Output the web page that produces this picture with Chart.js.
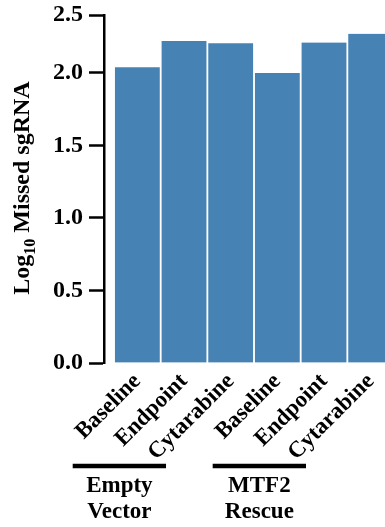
<!DOCTYPE html>
<html>
<head>
<meta charset="utf-8">
<script src="https://cdn.jsdelivr.net/npm/chart.js@4/dist/chart.umd.min.js"></script>
<style>
  html, body { margin: 0; padding: 0; background: #fff; overflow: hidden; }
  #wrap { width: 385px; height: 527px; overflow: hidden; position: relative; }
  canvas { display: block; }
</style>
</head>
<body>
<div id="wrap"><canvas id="chart" width="394" height="527"></canvas></div>
<script>
// Conditions along the x axis
const categories = ["Baseline", "Endpoint", "Cytarabine", "Baseline", "Endpoint", "Cytarabine"];
// log10 of missed sgRNA counts per condition
const missedLog10 = [2.04, 2.22, 2.205, 2.0, 2.21, 2.27];
// y-axis ticks: positions and their printed labels
const yTickValues = [0, 0.5, 1.0, 1.5, 2.0, 2.4];
const yTickLabels = ["0.0", "0.5", "1.0", "1.5", "2.0", "2.5"];
// Construct groups shown under the condition labels
const groupNames = [["Empty", "Vector"], ["MTF2", "Rescue"]];
const groupStarts = [0, 3];

const FONT = "'Liberation Serif', 'Times New Roman', serif";

const axisTitle = {
  id: 'axisTitle',
  afterDraw(chart) {
    const ctx = chart.ctx;
    ctx.save();
    ctx.fillStyle = '#000';
    const big = 'bold 24px ' + FONT;
    const small = 'bold 16px ' + FONT;
    ctx.font = big;
    const wLog = ctx.measureText('Log').width;
    const wRest = ctx.measureText(' Missed sgRNA').width;
    ctx.font = small;
    const wSub = ctx.measureText('10').width;
    const total = wLog + wSub + wRest;
    const cy = 188;
    ctx.translate(29, cy);
    ctx.rotate(-Math.PI / 2);
    ctx.textBaseline = 'alphabetic';
    ctx.textAlign = 'left';
    let x = -total / 2;
    ctx.font = big;
    ctx.fillText('Log', x, 0);
    x += wLog;
    ctx.font = small;
    ctx.fillText('10', x, 6);
    x += wSub;
    ctx.font = big;
    ctx.fillText(' Missed sgRNA', x, 0);
    ctx.restore();
  }
};

const groupBrackets = {
  id: 'groupBrackets',
  afterDraw(chart) {
    const ctx = chart.ctx;
    const xs = chart.scales.x;
    const step = xs.getPixelForValue(1) - xs.getPixelForValue(0);
    ctx.save();
    ctx.fillStyle = '#000';
    ctx.strokeStyle = '#000';
    ctx.lineWidth = 4.5;
    ctx.font = 'bold 23px ' + FONT;
    ctx.textAlign = 'center';
    ctx.textBaseline = 'alphabetic';
    groupStarts.forEach((start, g) => {
      const cx = xs.getPixelForValue(start) - 18;
      ctx.beginPath();
      ctx.moveTo(cx - step, 466);
      ctx.lineTo(cx + step, 466);
      ctx.stroke();
      ctx.fillText(groupNames[g][0], cx, 492);
      ctx.fillText(groupNames[g][1], cx, 518);
    });
    ctx.restore();
  }
};

new Chart(document.getElementById('chart'), {
  type: 'bar',
  data: {
    datasets: [{
      data: missedLog10.map((v, i) => ({ x: i, y: v })),
      backgroundColor: '#4682b4',
      borderColor: '#ffffff',
      borderWidth: { left: 1.25, right: 1.25, top: 0, bottom: 0 },
      borderSkipped: false,
      barPercentage: 1,
      categoryPercentage: 1
    }]
  },
  options: {
    responsive: false,
    animation: false,
    layout: { padding: { left: 0, right: 0, top: 15, bottom: 0 } },
    plugins: { legend: { display: false }, tooltip: { enabled: false } },
    scales: {
      x: {
        type: 'linear',
        offset: false,
        min: -0.715,
        max: 5.5,
        grid: { display: false },
        border: { display: false },
        afterBuildTicks(scale) { scale.ticks = categories.map((_, i) => ({ value: i })); },
        afterFit(scale) { scale.height = 164; },
        ticks: {
          autoSkip: false,
          maxRotation: 45,
          minRotation: 45,
          padding: -3,
          color: '#000',
          font: { family: FONT, size: 23, weight: 'bold' },
          callback: (v) => categories[v] ?? ''
        }
      },
      y: {
        min: 0,
        max: 2.4,
        afterBuildTicks(scale) { scale.ticks = yTickValues.map(v => ({ value: v })); },
        afterFit(scale) {
          scale.width = 104;
          scale.paddingTop = 0;
          scale.paddingBottom = 0;
        },
        grid: {
          display: true,
          drawOnChartArea: false,
          drawTicks: true,
          tickLength: 15,
          tickWidth: 2.5,
          tickColor: '#000'
        },
        border: { display: true, color: '#000', width: 2.5 },
        ticks: {
          padding: 6,
          color: '#000',
          font: { family: FONT, size: 24, weight: 'bold', lineHeight: 1 },
          callback: (v, i) => yTickLabels[i]
        }
      }
    }
  },
  plugins: [axisTitle, groupBrackets]
});
</script>
</body>
</html>
